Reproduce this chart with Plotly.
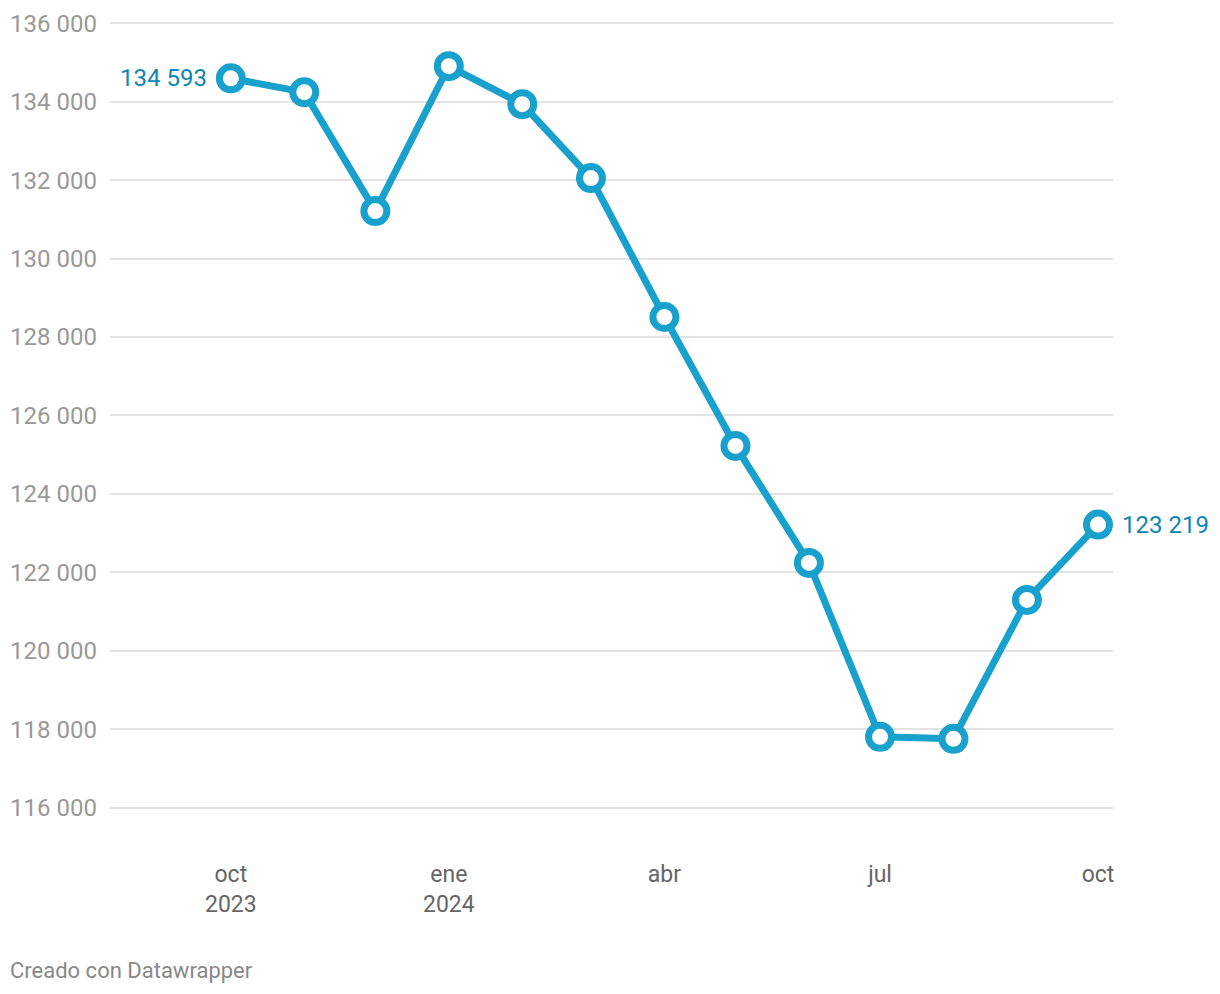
import plotly.graph_objects as go

# Monthly values, oct 2023 - oct 2024
months = ["2023-10-01", "2023-11-01", "2023-12-01", "2024-01-01", "2024-02-01",
          "2024-03-01", "2024-04-01", "2024-05-01", "2024-06-01", "2024-07-01",
          "2024-08-01", "2024-09-01", "2024-10-01"]
values = [134593, 134242, 131210, 134904, 133936, 132051, 128510,
          125223, 122242, 117809, 117758, 121299, 123219]

tick_dates = ["2023-10-01", "2024-01-01", "2024-04-01", "2024-07-01", "2024-10-01"]
tick_text = ["oct<br>2023", "ene<br>2024", "abr", "jul", "oct"]

y_ticks = list(range(116000, 136001, 2000))

BLUE = "#18a1cd"
LABEL_BLUE = "#0d86b3"

fig = go.Figure(go.Scatter(
    x=months, y=values,
    mode="lines+markers",
    line=dict(color=BLUE, width=7),
    marker=dict(size=23, color="white", line=dict(color=BLUE, width=7)),
    hoverinfo="skip",
))

# value labels for first and last point
fig.add_annotation(x=months[0], y=values[0], text=f"{values[0]:,}".replace(",", " "),
                   showarrow=False, xanchor="right", xshift=-22,
                   font=dict(color=LABEL_BLUE, size=24))
fig.add_annotation(x=months[-1], y=values[-1], text=f"{values[-1]:,}".replace(",", " "),
                   showarrow=False, xanchor="left", xshift=22,
                   font=dict(color=LABEL_BLUE, size=24))

fig.add_annotation(text="Creado con Datawrapper", xref="paper", yref="paper",
                   x=0, y=0, xanchor="left", yanchor="middle",
                   xshift=-102, yshift=-123, showarrow=False,
                   font=dict(color="#888888", size=22))

# page body adds 8px, so the figure is trimmed by that much
fig.update_layout(
    width=1212, height=986,
    margin=dict(l=102, r=107, t=14, b=147),
    plot_bgcolor="white", paper_bgcolor="white",
    font=dict(family="Roboto", size=24),
    separators=", ",
    showlegend=False,
)
fig.update_xaxes(
    type="date",
    range=["2023-08-11", "2024-10-07 08:00"],
    tickvals=tick_dates, ticktext=tick_text,
    showgrid=False, zeroline=False, showline=False,
    ticks="", ticklabelstandoff=11, automargin=False,
    tickfont=dict(color="#666666", size=23),
)
fig.update_yaxes(
    range=[115000, 136030],
    tickvals=y_ticks, tickformat=",d",
    showgrid=True, gridcolor="#e3e3e3", gridwidth=2,
    zeroline=False, showline=False,
    ticks="", ticklabelstandoff=12, automargin=False,
    tickfont=dict(color="#999999", size=24),
)

fig.write_html("out.html")
